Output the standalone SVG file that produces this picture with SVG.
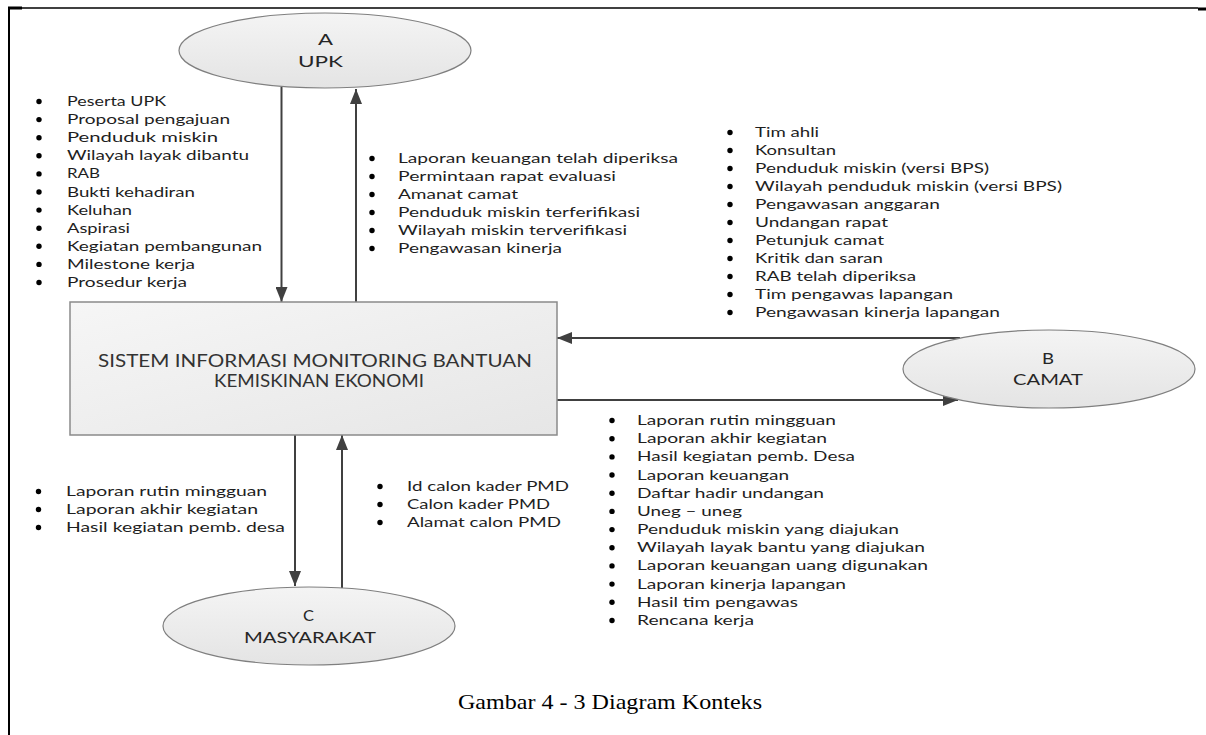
<svg xmlns="http://www.w3.org/2000/svg" width="1206" height="735" viewBox="0 0 1206 735">
  <defs>
    <style>
      .li { font-family: Lato, "Open Sans", "Liberation Sans", sans-serif; font-size: 13px; fill: #1e1e1e; }
      .nl { font-family: Lato, "Open Sans", "Liberation Sans", sans-serif; font-size: 16px; fill: #262626; }
      .sys { font-family: Lato, "Open Sans", "Liberation Sans", sans-serif; font-size: 18px; fill: #333333; }
      .cap { font-family: "Liberation Serif", "Times New Roman", serif; font-size: 21px; fill: #000000; }
      .bul { fill: #000000; }
      .ent { fill: url(#entFill); stroke: #7f7f7f; stroke-width: 1.2; }
      .proc { fill: url(#procFill); stroke: #8a8a8a; stroke-width: 1.5; }
      .flow { fill: none; stroke: #404040; stroke-width: 2; marker-end: url(#arrow); }
      .frame { stroke: #000000; fill: none; }
    </style>
    <linearGradient id="entFill" x1="0" y1="0" x2="0" y2="1">
      <stop offset="0" stop-color="#f4f4f4"/>
      <stop offset="1" stop-color="#e4e4e4"/>
    </linearGradient>
    <linearGradient id="procFill" x1="0" y1="0" x2="1" y2="1">
      <stop offset="0" stop-color="#f6f6f6"/>
      <stop offset="1" stop-color="#e6e6e6"/>
    </linearGradient>
    <marker id="arrow" markerUnits="userSpaceOnUse" markerWidth="15" markerHeight="12" viewBox="0 0 15 12" refX="15" refY="6" orient="auto">
      <path d="M0,0 L15,6 L0,12 Z" fill="#404040"/>
    </marker>
  </defs>

  <rect width="1206" height="735" fill="#ffffff"/>

  <!-- page frame -->
  <g id="frame">
    <line class="frame" x1="8" y1="8" x2="1198" y2="8" stroke-width="1.5"/>
    <rect x="8" y="6.5" width="14" height="3" fill="#000000"/>
    <rect x="1198" y="7.5" width="8" height="3" fill="#000000"/>
    <line class="frame" x1="9" y1="7" x2="9" y2="735" stroke-width="2"/>
  </g>

  <!-- data flows -->
  <g id="connectors">
    <path class="flow" d="M281.5,87 V302"/>
    <path class="flow" d="M356,302 V89"/>
    <path class="flow" d="M960,338 H557"/>
    <path class="flow" d="M557,400 H958"/>
    <path class="flow" d="M295,435 V586"/>
    <path class="flow" d="M342,588 V435"/>
  </g>

  <!-- external entities -->
  <g id="node-upk">
    <ellipse class="ent" cx="325" cy="50.5" rx="146" ry="37.5"/>
    <text class="nl" x="318" y="45" textLength="15" lengthAdjust="spacingAndGlyphs">A</text>
    <text class="nl" x="298" y="67" textLength="45" lengthAdjust="spacingAndGlyphs">UPK</text>
  </g>
  <g id="node-camat">
    <ellipse class="ent" cx="1049" cy="369" rx="146" ry="39"/>
    <text class="nl" x="1042" y="364" textLength="12" lengthAdjust="spacingAndGlyphs">B</text>
    <text class="nl" x="1013" y="385" textLength="70" lengthAdjust="spacingAndGlyphs">CAMAT</text>
  </g>
  <g id="node-masyarakat">
    <ellipse class="ent" cx="309" cy="626" rx="146" ry="39"/>
    <text class="nl" x="303" y="621" textLength="11" lengthAdjust="spacingAndGlyphs">C</text>
    <text class="nl" x="244" y="643" textLength="132" lengthAdjust="spacingAndGlyphs">MASYARAKAT</text>
  </g>

  <!-- the system process -->
  <g id="node-system">
    <rect class="proc" x="70" y="302" width="487" height="133"/>
    <text class="sys" x="98" y="367" textLength="434" lengthAdjust="spacingAndGlyphs">SISTEM INFORMASI MONITORING BANTUAN</text>
    <text class="sys" x="214" y="387" textLength="210" lengthAdjust="spacingAndGlyphs">KEMISKINAN EKONOMI</text>
  </g>

  <!-- UPK to system -->
  <g id="flow-upk-in">
    <circle class="bul" cx="39" cy="101.5" r="2.7"/>
    <circle class="bul" cx="39" cy="119.6" r="2.7"/>
    <circle class="bul" cx="39" cy="137.7" r="2.7"/>
    <circle class="bul" cx="39" cy="155.8" r="2.7"/>
    <circle class="bul" cx="39" cy="173.9" r="2.7"/>
    <circle class="bul" cx="39" cy="192" r="2.7"/>
    <circle class="bul" cx="39" cy="210.1" r="2.7"/>
    <circle class="bul" cx="39" cy="228.2" r="2.7"/>
    <circle class="bul" cx="39" cy="246.3" r="2.7"/>
    <circle class="bul" cx="39" cy="264.4" r="2.7"/>
    <circle class="bul" cx="39" cy="282.5" r="2.7"/>
    <text class="li" x="67" y="106" textLength="99" lengthAdjust="spacingAndGlyphs">Peserta UPK</text>
    <text class="li" x="67" y="124.1" textLength="163" lengthAdjust="spacingAndGlyphs">Proposal pengajuan</text>
    <text class="li" x="67" y="142.2" textLength="151" lengthAdjust="spacingAndGlyphs">Penduduk miskin</text>
    <text class="li" x="67" y="160.3" textLength="182" lengthAdjust="spacingAndGlyphs">Wilayah layak dibantu</text>
    <text class="li" x="67" y="178.4" textLength="33" lengthAdjust="spacingAndGlyphs">RAB</text>
    <text class="li" x="67" y="196.5" textLength="128" lengthAdjust="spacingAndGlyphs">Bukti kehadiran</text>
    <text class="li" x="67" y="214.6" textLength="65" lengthAdjust="spacingAndGlyphs">Keluhan</text>
    <text class="li" x="67" y="232.7" textLength="63" lengthAdjust="spacingAndGlyphs">Aspirasi</text>
    <text class="li" x="67" y="250.8" textLength="195" lengthAdjust="spacingAndGlyphs">Kegiatan pembangunan</text>
    <text class="li" x="67" y="268.9" textLength="128" lengthAdjust="spacingAndGlyphs">Milestone kerja</text>
    <text class="li" x="67" y="287" textLength="120" lengthAdjust="spacingAndGlyphs">Prosedur kerja</text>
  </g>

  <!-- system to UPK -->
  <g id="flow-upk-out">
    <circle class="bul" cx="372" cy="158.5" r="2.7"/>
    <circle class="bul" cx="372" cy="176.5" r="2.7"/>
    <circle class="bul" cx="372" cy="194.5" r="2.7"/>
    <circle class="bul" cx="372" cy="212.5" r="2.7"/>
    <circle class="bul" cx="372" cy="230.5" r="2.7"/>
    <circle class="bul" cx="372" cy="248.5" r="2.7"/>
    <text class="li" x="398" y="163" textLength="280" lengthAdjust="spacingAndGlyphs">Laporan keuangan telah diperiksa</text>
    <text class="li" x="398" y="181" textLength="218" lengthAdjust="spacingAndGlyphs">Permintaan rapat evaluasi</text>
    <text class="li" x="398" y="199" textLength="120" lengthAdjust="spacingAndGlyphs">Amanat camat</text>
    <text class="li" x="398" y="217" textLength="242" lengthAdjust="spacingAndGlyphs">Penduduk miskin terferifikasi</text>
    <text class="li" x="398" y="235" textLength="229" lengthAdjust="spacingAndGlyphs">Wilayah miskin terverifikasi</text>
    <text class="li" x="398" y="253" textLength="164" lengthAdjust="spacingAndGlyphs">Pengawasan kinerja</text>
  </g>

  <!-- CAMAT to system -->
  <g id="flow-camat-in">
    <circle class="bul" cx="730" cy="132.5" r="2.7"/>
    <circle class="bul" cx="730" cy="150.5" r="2.7"/>
    <circle class="bul" cx="730" cy="168.5" r="2.7"/>
    <circle class="bul" cx="730" cy="186.5" r="2.7"/>
    <circle class="bul" cx="730" cy="204.5" r="2.7"/>
    <circle class="bul" cx="730" cy="222.5" r="2.7"/>
    <circle class="bul" cx="730" cy="240.5" r="2.7"/>
    <circle class="bul" cx="730" cy="258.5" r="2.7"/>
    <circle class="bul" cx="730" cy="276.5" r="2.7"/>
    <circle class="bul" cx="730" cy="294.5" r="2.7"/>
    <circle class="bul" cx="730" cy="312.5" r="2.7"/>
    <text class="li" x="755" y="137" textLength="64" lengthAdjust="spacingAndGlyphs">Tim ahli</text>
    <text class="li" x="755" y="155" textLength="81" lengthAdjust="spacingAndGlyphs">Konsultan</text>
    <text class="li" x="755" y="173" textLength="234" lengthAdjust="spacingAndGlyphs">Penduduk miskin (versi BPS)</text>
    <text class="li" x="755" y="191" textLength="307" lengthAdjust="spacingAndGlyphs">Wilayah penduduk miskin (versi BPS)</text>
    <text class="li" x="755" y="209" textLength="185" lengthAdjust="spacingAndGlyphs">Pengawasan anggaran</text>
    <text class="li" x="755" y="227" textLength="133" lengthAdjust="spacingAndGlyphs">Undangan rapat</text>
    <text class="li" x="755" y="245" textLength="129" lengthAdjust="spacingAndGlyphs">Petunjuk camat</text>
    <text class="li" x="755" y="263" textLength="128" lengthAdjust="spacingAndGlyphs">Kritik dan saran</text>
    <text class="li" x="755" y="281" textLength="161" lengthAdjust="spacingAndGlyphs">RAB telah diperiksa</text>
    <text class="li" x="755" y="299" textLength="198" lengthAdjust="spacingAndGlyphs">Tim pengawas lapangan</text>
    <text class="li" x="755" y="317" textLength="245" lengthAdjust="spacingAndGlyphs">Pengawasan kinerja lapangan</text>
  </g>

  <!-- system to CAMAT -->
  <g id="flow-camat-out">
    <circle class="bul" cx="612" cy="420.5" r="2.7"/>
    <circle class="bul" cx="612" cy="438.7" r="2.7"/>
    <circle class="bul" cx="612" cy="456.9" r="2.7"/>
    <circle class="bul" cx="612" cy="475" r="2.7"/>
    <circle class="bul" cx="612" cy="493.2" r="2.7"/>
    <circle class="bul" cx="612" cy="511.4" r="2.7"/>
    <circle class="bul" cx="612" cy="529.6" r="2.7"/>
    <circle class="bul" cx="612" cy="547.8" r="2.7"/>
    <circle class="bul" cx="612" cy="565.9" r="2.7"/>
    <circle class="bul" cx="612" cy="584.1" r="2.7"/>
    <circle class="bul" cx="612" cy="602.3" r="2.7"/>
    <circle class="bul" cx="612" cy="620.5" r="2.7"/>
    <text class="li" x="637" y="425" textLength="199" lengthAdjust="spacingAndGlyphs">Laporan rutin mingguan</text>
    <text class="li" x="637" y="443.2" textLength="190" lengthAdjust="spacingAndGlyphs">Laporan akhir kegiatan</text>
    <text class="li" x="637" y="461.4" textLength="218" lengthAdjust="spacingAndGlyphs">Hasil kegiatan pemb. Desa</text>
    <text class="li" x="637" y="479.5" textLength="152" lengthAdjust="spacingAndGlyphs">Laporan keuangan</text>
    <text class="li" x="637" y="497.7" textLength="187" lengthAdjust="spacingAndGlyphs">Daftar hadir undangan</text>
    <text class="li" x="637" y="515.9" textLength="105" lengthAdjust="spacingAndGlyphs">Uneg – uneg</text>
    <text class="li" x="637" y="534.1" textLength="262" lengthAdjust="spacingAndGlyphs">Penduduk miskin yang diajukan</text>
    <text class="li" x="637" y="552.3" textLength="288" lengthAdjust="spacingAndGlyphs">Wilayah layak bantu yang diajukan</text>
    <text class="li" x="637" y="570.4" textLength="291" lengthAdjust="spacingAndGlyphs">Laporan keuangan uang digunakan</text>
    <text class="li" x="637" y="588.6" textLength="209" lengthAdjust="spacingAndGlyphs">Laporan kinerja lapangan</text>
    <text class="li" x="637" y="606.8" textLength="161" lengthAdjust="spacingAndGlyphs">Hasil tim pengawas</text>
    <text class="li" x="637" y="625" textLength="117" lengthAdjust="spacingAndGlyphs">Rencana kerja</text>
  </g>

  <!-- system to MASYARAKAT -->
  <g id="flow-masyarakat-out">
    <circle class="bul" cx="38.5" cy="491.5" r="2.7"/>
    <circle class="bul" cx="38.5" cy="509.5" r="2.7"/>
    <circle class="bul" cx="38.5" cy="527.5" r="2.7"/>
    <text class="li" x="66" y="496" textLength="201" lengthAdjust="spacingAndGlyphs">Laporan rutin mingguan</text>
    <text class="li" x="66" y="514" textLength="192" lengthAdjust="spacingAndGlyphs">Laporan akhir kegiatan</text>
    <text class="li" x="66" y="532" textLength="219" lengthAdjust="spacingAndGlyphs">Hasil kegiatan pemb. desa</text>
  </g>

  <!-- MASYARAKAT to system -->
  <g id="flow-masyarakat-in">
    <circle class="bul" cx="380" cy="486.5" r="2.7"/>
    <circle class="bul" cx="380" cy="504.5" r="2.7"/>
    <circle class="bul" cx="380" cy="522.5" r="2.7"/>
    <text class="li" x="407" y="491" textLength="162" lengthAdjust="spacingAndGlyphs">Id calon kader PMD</text>
    <text class="li" x="407" y="509" textLength="143" lengthAdjust="spacingAndGlyphs">Calon kader PMD</text>
    <text class="li" x="407" y="527" textLength="154" lengthAdjust="spacingAndGlyphs">Alamat calon PMD</text>
  </g>

  <!-- figure caption -->
  <text class="cap" x="458" y="709" textLength="304" lengthAdjust="spacingAndGlyphs">Gambar 4 -  3 Diagram Konteks</text>
</svg>
